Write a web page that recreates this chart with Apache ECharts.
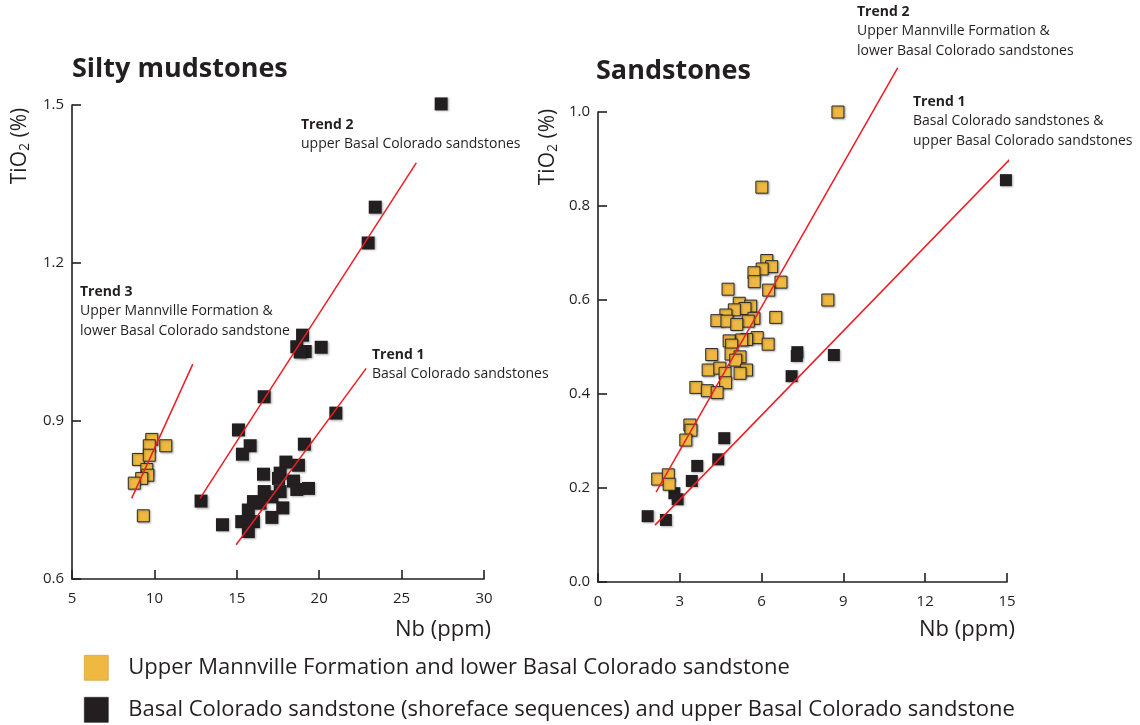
<!DOCTYPE html>
<html>
<head>
<meta charset="utf-8">
<script src="https://cdn.jsdelivr.net/npm/echarts@6/dist/echarts.min.js"></script>
<style>html,body{margin:0;padding:0;background:#fff}#c{width:1140px;height:725px}</style>
</head>
<body>
<div id="c"></div>
<script>
// ---- Data ----
const seriesNames = ['Upper Mannville Formation and lower Basal Colorado sandstone',
  'Basal Colorado sandstone (shoreface sequences) and upper Basal Colorado sandstone'];

// Silty mudstones
const mudUMNb = [9.84, 9.69, 10.69, 9.03, 9.69, 9.54, 9.60, 9.23, 8.78, 9.33];
const mudUMTi = [0.865, 0.853, 0.853, 0.827, 0.835, 0.808, 0.797, 0.791, 0.782, 0.720];
const mudBCNb = [15.10, 15.81, 15.34, 12.83, 19.10, 17.98, 18.74, 16.62, 17.63, 17.53, 18.44, 18.64,
  19.35, 16.66, 17.63, 17.13, 16.01, 15.70, 17.79, 17.13, 15.30, 16.01, 14.13, 15.70, 16.41,
  18.99, 18.64, 19.15, 18.84, 20.12, 16.66, 21.01, 22.97, 23.40, 27.40];
const mudBCTi = [0.883, 0.853, 0.837, 0.748, 0.856, 0.822, 0.816, 0.799, 0.801, 0.791, 0.786, 0.770,
  0.772, 0.766, 0.766, 0.756, 0.747, 0.731, 0.735, 0.717, 0.709, 0.709, 0.703, 0.690, 0.744,
  1.063, 1.041, 1.032, 1.031, 1.040, 0.946, 0.915, 1.238, 1.306, 1.502];
const mudTrend1 = [[14.96, 0.665], [22.85, 1.000]];
const mudTrend2 = [[12.77, 0.753], [25.89, 1.390]];
const mudTrend3 = [[8.62, 0.753], [12.33, 1.008]];

// Sandstones
const sandUMNb = [6.19, 6.37, 6.02, 5.72, 5.73, 6.71, 6.26, 4.77, 5.18, 5.60, 5.39, 5.00, 4.69, 5.72,
  4.36, 4.73, 5.51, 5.09, 6.52, 5.84, 5.45, 5.27, 4.81, 4.90, 6.24, 4.17, 4.88, 5.21, 5.05, 4.04,
  4.47, 4.66, 5.45, 5.21, 4.68, 3.59, 4.01, 4.37, 3.37, 3.41, 3.22, 2.19, 2.58, 2.61, 8.80, 6.01, 8.43];
const sandUMTi = [0.684, 0.671, 0.666, 0.658, 0.639, 0.638, 0.621, 0.623, 0.593, 0.587, 0.582, 0.579,
  0.568, 0.561, 0.556, 0.555, 0.555, 0.548, 0.563, 0.520, 0.516, 0.515, 0.513, 0.504, 0.506, 0.484,
  0.485, 0.479, 0.472, 0.451, 0.455, 0.444, 0.451, 0.444, 0.424, 0.414, 0.407, 0.403, 0.334, 0.323,
  0.302, 0.219, 0.228, 0.208, 1.000, 0.840, 0.600];
const sandBCNb = [7.31, 7.29, 7.10, 8.65, 14.96, 4.63, 3.64, 4.41, 3.44, 2.80, 2.92, 1.82, 2.49];
const sandBCTi = [0.489, 0.481, 0.438, 0.483, 0.855, 0.306, 0.247, 0.261, 0.215, 0.189, 0.176, 0.140, 0.132];
const sandTrend1 = [[2.09, 0.121], [15.18, 0.904]];
const sandTrend2 = [[2.13, 0.191], [10.99, 1.094]];

// Tick settings
const mudX = {min: 5, max: 30, interval: 5};
const mudY = {min: 0.6, max: 1.5, interval: 0.3};
const sandX = {min: 0, max: 15, interval: 3};
const sandY = {min: 0, max: 1.0, interval: 0.2};

// ---- Chart ----
const zip = (a, b) => a.map((v, i) => [v, b[i]]);
const ink = '#231f20';
const orange = '#efb941';
const red = '#ed1c24';
const FONT = 'Open Sans';

function axisBase(extra) {
  return Object.assign({
    type: 'value',
    axisLine: {show: true, onZero: false, lineStyle: {color: ink, width: 1.6}},
    axisTick: {show: true, inside: true, length: 9, lineStyle: {color: ink, width: 1.6}},
    splitLine: {show: false}
  }, extra);
}

function scatter(name, xi, yi, data, color, size) {
  return {
    name: name, type: 'scatter', xAxisIndex: xi, yAxisIndex: yi,
    data: data, symbol: 'rect', symbolSize: size, z: 2, clip: false,
    itemStyle: {
      color: color, opacity: 1,
      borderColor: color === orange ? '#2b2b2b' : ink,
      borderWidth: color === orange ? 1 : 0,
      shadowColor: 'rgba(0,0,0,0.3)', shadowBlur: 2, shadowOffsetX: 1, shadowOffsetY: 1
    },
    emphasis: {disabled: true}
  };
}

function trend(xi, yi, data) {
  return {
    type: 'line', xAxisIndex: xi, yAxisIndex: yi, data: data,
    symbol: 'none', clip: false, silent: true, z: 5,
    lineStyle: {color: red, width: 1.5}
  };
}

function label(x, y, lines) {
  return lines.map((t, i) => ({
    type: 'text', left: x, top: y + i * 19.5,
    style: {text: t, fontFamily: FONT, fontSize: 14, fontWeight: i === 0 ? 'bold' : 'normal', fill: ink}
  }));
}

function legendItem(name, top, edge) {
  return {
    data: [{name: name, itemStyle: {borderWidth: 0.6, borderColor: edge, shadowBlur: 0, shadowColor: 'transparent', shadowOffsetX: 0, shadowOffsetY: 0}}],
    left: 84, top: top,
    itemWidth: 24, itemHeight: 25, icon: 'rect',
    selectedMode: false, padding: 0,
    textStyle: {fontFamily: FONT, fontSize: 22, color: ink, padding: [0, 0, 0, 15], lineHeight: 25}
  };
}

const chart = echarts.init(document.getElementById('c'), null, {renderer: 'canvas'});

const tickLabel = (size, margin, fmt) => {
  const o = {color: ink, fontFamily: FONT, fontSize: size, margin: margin};
  if (fmt) o.formatter = fmt;
  return o;
};

const option = {
  backgroundColor: '#fff',
  animation: false,
  title: [
    {text: 'Silty mudstones', left: 72, top: 56, padding: 0, textStyle: {fontFamily: FONT, fontSize: 27, fontWeight: 'bold', color: ink}},
    {text: 'Sandstones', left: 596, top: 58, padding: 0, textStyle: {fontFamily: FONT, fontSize: 27, fontWeight: 'bold', color: ink}}
  ],
  grid: [
    {left: 72, right: 1140 - 484, top: 105, bottom: 725 - 579},
    {left: 598, right: 1140 - 1007, top: 112, bottom: 725 - 582}
  ],
  xAxis: [
    axisBase(Object.assign({gridIndex: 0, axisLabel: tickLabel(15, 12)}, mudX)),
    axisBase(Object.assign({gridIndex: 1, axisLabel: tickLabel(15, 12)}, sandX))
  ],
  yAxis: [
    axisBase(Object.assign({gridIndex: 0, axisLabel: tickLabel(15, 8, v => v.toFixed(1))}, mudY)),
    axisBase(Object.assign({gridIndex: 1, axisLabel: tickLabel(15, 8, v => v.toFixed(1))}, sandY))
  ],
  legend: [legendItem(seriesNames[0], 655, '#c9962e'), legendItem(seriesNames[1], 697, ink)],
  series: [
    scatter(seriesNames[1], 0, 0, zip(mudBCNb, mudBCTi), ink, 13),
    scatter(seriesNames[0], 0, 0, zip(mudUMNb, mudUMTi), orange, 12),
    trend(0, 0, mudTrend1), trend(0, 0, mudTrend2), trend(0, 0, mudTrend3),
    scatter(seriesNames[1], 1, 1, zip(sandBCNb, sandBCTi), ink, 12),
    scatter(seriesNames[0], 1, 1, zip(sandUMNb, sandUMTi), orange, 12),
    trend(1, 1, sandTrend1), trend(1, 1, sandTrend2)
  ],
  graphic: [
    {type: 'text', x: 20, y: 146, rotation: Math.PI / 2,
      style: {text: 'TiO{s|2} (%)', fontFamily: FONT, fontSize: 21, fill: ink, align: 'center', verticalAlign: 'middle',
        rich: {s: {fontSize: 14, fontFamily: FONT, fill: ink, padding: [11, 0, 0, 0]}}}},
    {type: 'text', x: 548, y: 147, rotation: Math.PI / 2,
      style: {text: 'TiO{s|2} (%)', fontFamily: FONT, fontSize: 21, fill: ink, align: 'center', verticalAlign: 'middle',
        rich: {s: {fontSize: 14, fontFamily: FONT, fill: ink, padding: [11, 0, 0, 0]}}}},
    {type: 'text', x: 491, y: 630,
      style: {text: 'Nb (ppm)', fontFamily: FONT, fontSize: 22, fill: ink, align: 'right', verticalAlign: 'middle'}},
    {type: 'text', x: 1015, y: 630,
      style: {text: 'Nb (ppm)', fontFamily: FONT, fontSize: 22, fill: ink, align: 'right', verticalAlign: 'middle'}}
  ].concat(
    label(301, 118, ['Trend 2', 'upper Basal Colorado sandstones']),
    label(80, 285, ['Trend 3', 'Upper Mannville Formation &', 'lower Basal Colorado sandstone']),
    label(372, 348, ['Trend 1', 'Basal Colorado sandstones']),
    label(857, 5, ['Trend 2', 'Upper Mannville Formation &', 'lower Basal Colorado sandstones']),
    label(913, 95, ['Trend 1', 'Basal Colorado sandstones &', 'upper Basal Colorado sandstones'])
  )
};
chart.setOption(option);
</script>
</body>
</html>
